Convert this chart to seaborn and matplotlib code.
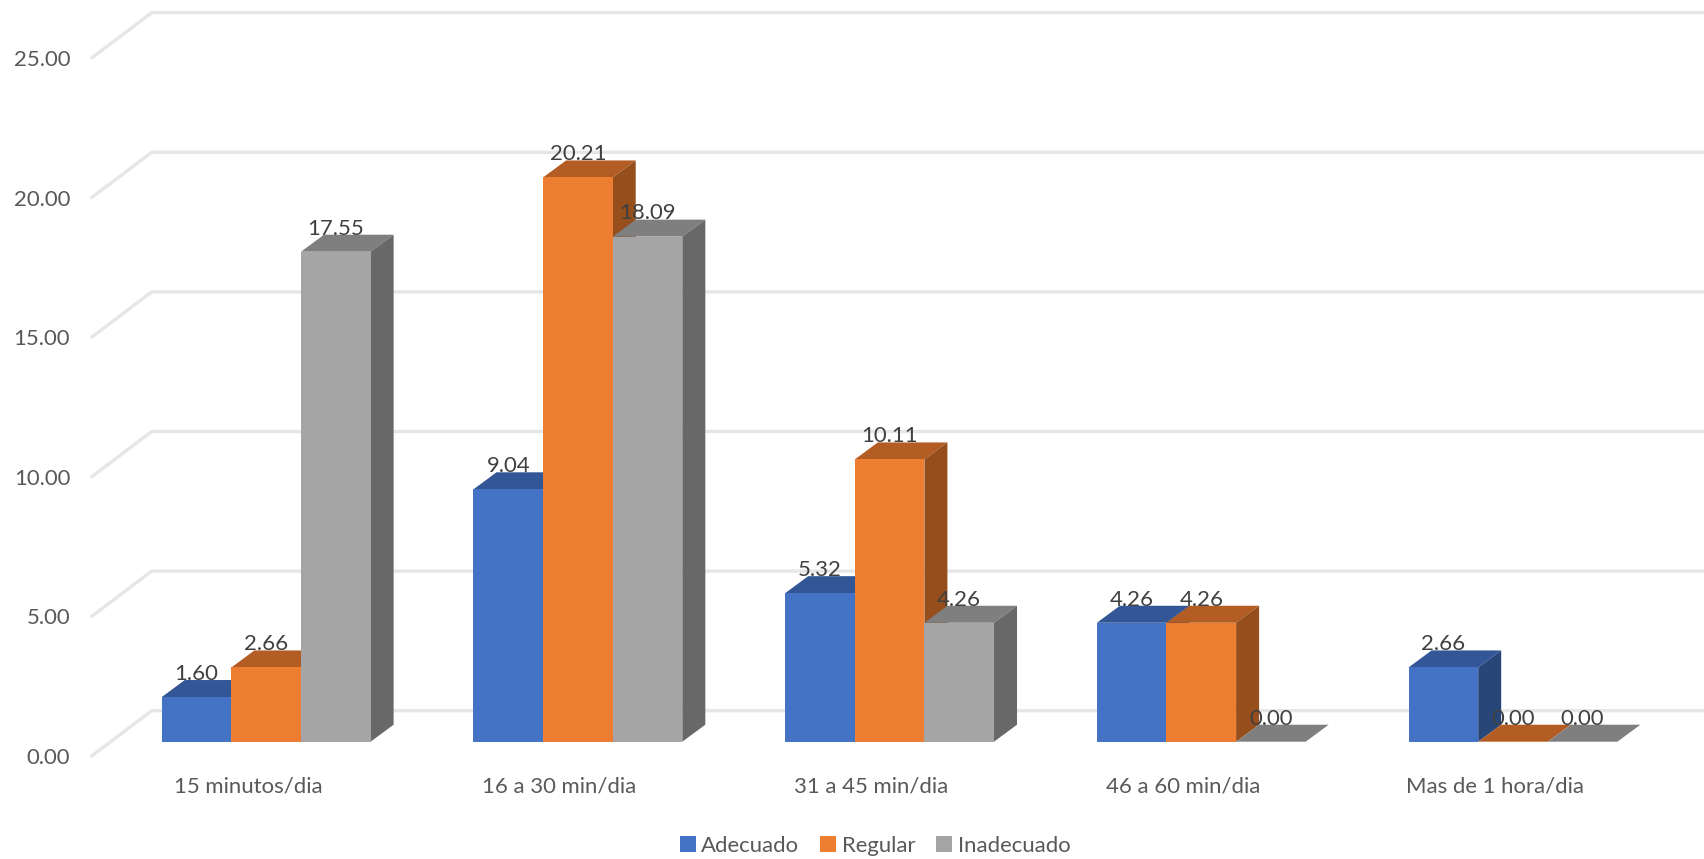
import matplotlib
matplotlib.use("Agg")
import matplotlib.pyplot as plt
import pandas as pd
import seaborn as sns

categories = ["15 minutos/dia", "16 a 30 min/dia", "31 a 45 min/dia", "46 a 60 min/dia", "Mas de 1 hora/dia"]
adecuado = [1.60, 9.04, 5.32, 4.26, 2.66]
regular = [2.66, 20.21, 10.11, 4.26, 0.00]
inadecuado = [17.55, 18.09, 4.26, 0.00, 0.00]
series_names = ["Adecuado", "Regular", "Inadecuado"]
axis_ticks = [0, 5, 10, 15, 20, 25]

front_colors = ["#4472C4", "#ED7D31", "#A5A5A5"]
top_colors = ["#335796", "#B35D24", "#7F7F7F"]
side_colors = ["#294679", "#964E1C", "#686868"]
grid_color = "#E6E6E6"
font_size = 15.9

W, H = 1704, 859
PX_PER_CAT = 311.7
PX_PER_VAL = 27.92
X0_PX = 266.2      # pixel centre of the first group
Y0_PX = 741.7      # pixel of the front baseline
AX_L, AX_B = 91.7, 756.0

sns.set_theme(style="white")
plt.rcParams["font.family"] = ["Lato", "DejaVu Sans"]

df = pd.DataFrame({
    "cat": categories * 3,
    "serie": sum([[n] * len(categories) for n in series_names], []),
    "val": adecuado + regular + inadecuado,
})

fig = plt.figure(figsize=(W / 100, H / 100), dpi=100, facecolor="white")
ax = fig.add_axes([AX_L / W, 1 - AX_B / H, 1 - AX_L / W, AX_B / H])
sns.barplot(data=df, x="cat", y="val", hue="serie", hue_order=series_names,
            order=categories, palette=front_colors, saturation=1, width=0.67,
            gap=0, linewidth=0, errorbar=None, ax=ax, legend=False)

ax.set_xlim((AX_L - X0_PX) / PX_PER_CAT, (W - X0_PX) / PX_PER_CAT)
ax.set_ylim((Y0_PX - AX_B) / PX_PER_VAL, Y0_PX / PX_PER_VAL)

# depth of the pseudo 3D projection
dx = 23.0 / PX_PER_CAT
dy = 17.0 / PX_PER_VAL
wall_dx = 60.0 / PX_PER_CAT
wall_dy = 45.3 / PX_PER_VAL
left_x = ax.get_xlim()[0]
base_y = ax.get_ylim()[0]

# gridlines: front-left diagonal, then horizontal along the back wall
for t in axis_ticks:
    y0 = base_y + t
    ax.plot([left_x, left_x + wall_dx, ax.get_xlim()[1]],
            [y0, y0 + wall_dy, y0 + wall_dy],
            color=grid_color, lw=2.4, zorder=0.5, solid_joinstyle="miter", clip_on=False)

# side and top faces are derived from each bar patch seaborn has drawn
for s, cont in enumerate(ax.containers):
    for bar in cont:
        x0, w, h = bar.get_x(), bar.get_width(), bar.get_height()
        x1 = x0 + w
        bar.set_zorder(1 + s * 0.3 + 0.2)
        ax.fill([x0, x1, x1 + dx, x0 + dx], [h, h, h + dy, h + dy],
                color=top_colors[s], lw=0, zorder=1 + s * 0.3)
        ax.fill([x1, x1 + dx, x1 + dx, x1], [0, dy, h + dy, h],
                color=side_colors[s], lw=0, zorder=1 + s * 0.3)
    ax.bar_label(cont, fmt="%.2f", padding=9.5, fontsize=font_size, color="#404040", zorder=5)

sns.despine(ax=ax, left=True, bottom=True)
ax.set_xlabel("")
ax.set_ylabel("")
ax.set_xticks([i - 18.3 / PX_PER_CAT for i in range(len(categories))], labels=categories)
ax.set_yticks([base_y + t for t in axis_ticks], labels=[f"{t:.2f}" for t in axis_ticks])
ax.tick_params(axis="x", length=0, pad=14.5, labelsize=font_size, labelcolor="#595959")
ax.tick_params(axis="y", length=0, pad=15.5, labelsize=font_size, labelcolor="#595959")

handles = [plt.Rectangle((0, 0), 1, 1, color=c, lw=0) for c in front_colors]
fig.legend(handles, series_names, loc="center", bbox_to_anchor=(875 / W, 1 - 846 / H),
           ncol=3, frameon=False, fontsize=font_size, labelcolor="#595959",
           handlelength=0.72, handleheight=0.72, handletextpad=0.25, columnspacing=0.95,
           borderpad=0, borderaxespad=0)

fig.savefig("out.png", dpi=100, facecolor="white")
